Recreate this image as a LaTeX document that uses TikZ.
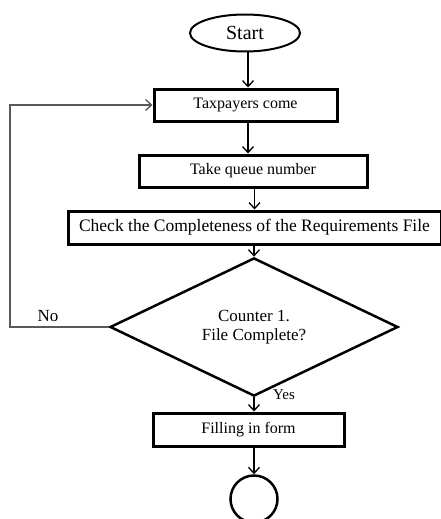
\documentclass[tikz,border=0pt]{standalone}
\usepackage{fontspec}
\setmainfont{Liberation Serif}
\usetikzlibrary{shapes.geometric,arrows.meta,calc}
\begin{document}
\begin{tikzpicture}[x=1pt,y=-1pt,
  box/.style={draw,line width=3pt,rectangle,inner sep=0pt},
  conn/.style={line width=1.3pt,-{Straight Barb[length=6pt,width=11pt]}},
  loopline/.style={line width=1.3pt,draw=black!65,-{Straight Barb[length=6pt,width=11pt]}},
  lbl/.style={inner sep=0pt,font=\fontsize{16}{19}\selectfont}]
\useasboundingbox (0,0) rectangle (440,519);
\node[draw,ellipse,line width=2pt,minimum width=110pt,minimum height=37pt,inner sep=0pt,font=\fontsize{20}{24}\selectfont] (start) at (245,33) {Start};
\node[box,minimum width=183pt,minimum height=32pt,font=\fontsize{16}{19}\selectfont] (tax) at (245.5,105) {Taxpayers come};
\node[box,minimum width=228pt,minimum height=32pt,font=\fontsize{16}{19}\selectfont] (take) at (253,171) {Take queue number};
\node[box,minimum width=373pt,minimum height=33pt,font=\fontsize{17.5}{21}\selectfont] (check) at (254.5,227.5) {Check the Completeness of the Requirements File};
\node[draw,diamond,line width=2.5pt,minimum width=288pt,minimum height=110pt,inner sep=0pt,align=center,font=\fontsize{17}{19}\selectfont] (dec) at (254,327) {Counter 1.\\File Complete?};
\node[box,minimum width=191pt,minimum height=33pt,font=\fontsize{16}{19}\selectfont] (fill) at (248.5,429.5) {Filling in form};
\node[draw,circle,line width=2.5pt,minimum size=47pt,inner sep=0pt] (endc) at (254,499) {};
\coordinate (ax) at (248,0);
\coordinate (lp) at (10,0);
\draw[conn] (start.south -| ax) -- (tax.north -| ax);
\draw[conn] (tax.south -| ax) -- (take.north -| ax);
\draw[conn] (take.south -| check.north) -- (check.north);
\draw[conn] (check.south -| dec.north) -- (dec.north);
\draw[conn] (dec.south) -- (fill.north -| dec.south);
\draw[conn] (fill.south -| endc.north) -- (endc.north);
\draw[loopline] (dec.west) -- (dec.west -| lp) -- (tax.west -| lp) -- (tax.west);
\node[lbl,font=\fontsize{17}{20}\selectfont] (no) at (48,316) {No};
\node[lbl,font=\fontsize{15}{18}\selectfont] (yes) at (284,395) {Yes};
\end{tikzpicture}
\end{document}
